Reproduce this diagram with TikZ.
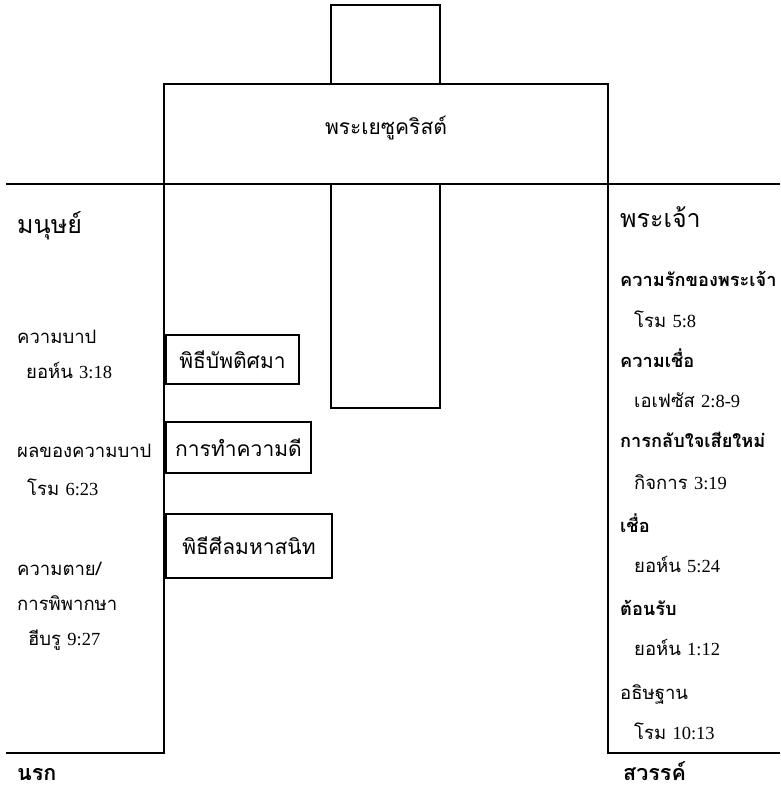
\documentclass[tikz,border=0pt]{standalone}
\usepackage{fontspec}
\setmainfont[Script=Thai]{Loma}
\newfontfamily\numfont{Liberation Serif}
\newcommand{\passage}[1]{{\numfont #1}}
\usetikzlibrary{positioning}

\tikzset{
    frame/.style={line width=2pt},
    ritebox/.style={draw, line width=2pt, inner sep=0pt, anchor=north west,
        text height=20pt, text depth=3pt, font=\fontsize{21}{25}\selectfont},
    sidetext/.style={anchor=base west, inner sep=0pt, font=\fontsize{18.5}{22}\selectfont},
    heading/.style={anchor=base west, inner sep=0pt, font=\bfseries\fontsize{18.2}{22}\selectfont},
    place/.style={anchor=base west, inner sep=0pt, font=\bfseries\fontsize{21.5}{25}\selectfont},
    side/.style={anchor=base west, inner sep=0pt, font=\fontsize{25}{29}\selectfont},
}

\begin{document}
\begin{tikzpicture}[x=1pt, y=-1pt]
    \useasboundingbox (0, 0) rectangle (780, 791);

    \coordinate (TL) at (6, 184);
    \coordinate (TR) at (780, 184);
    \coordinate (BL) at (6, 753);
    \coordinate (BR) at (780, 753);

    % cross
    \draw[frame] (331, 5) rectangle (440, 84);
    \draw[frame] (164, 84) rectangle (608, 184);
    \node [font=\fontsize{21}{25}\selectfont, anchor=base] (christ) at (386, 135) {พระเยซูคริสต์};
    \draw[frame] (331, 184) -- (331, 408) -- (440, 408) -- (440, 184);

    % the gap
    \draw[frame] (TL) -- (TR);
    \draw[frame] (164, 184) -- (164, 753) -- (BL);
    \draw[frame] (608, 184) -- (608, 753) -- (BR);

    \node [ritebox, minimum width=133pt, minimum height=49pt] (baptism) at (165, 334) {พิธีบัพติศมา};
    \node [ritebox, minimum width=145pt, minimum height=51pt] (works) at (165, 421) {การทำความดี};
    \node [ritebox, minimum width=166pt, minimum height=64pt] (supper) at (165, 513) {พิธีศีลมหาสนิท};

    % man
    \node [side] (man) at (17, 234) {มนุษย์};
    \node [sidetext] (sin) at (17, 343) {ความบาป};
    \node [sidetext] (sinref) at (26, 378) {ยอห์น \passage{3:18}};
    \node [sidetext] (wages) at (17, 457) {ผลของความบาป};
    \node [sidetext] (wagesref) at (27, 495) {โรม \passage{6:23}};
    \node [sidetext] (death) at (17, 575) {ความตาย/};
    \node [sidetext] (judge) at (17, 610) {การพิพากษา};
    \node [sidetext] (judgeref) at (28, 645) {ฮีบรู \passage{9:27}};
    \node [place] (hell) at (17, 780) {นรก};

    % god
    \node [side] (god) at (620, 228) {พระเจ้า};
    \node [heading] (love) at (620, 287) {ความรักของพระเจ้า};
    \node [sidetext] (loveref) at (634, 327) {โรม \passage{5:8}};
    \node [heading] (faith) at (620, 367) {ความเชื่อ};
    \node [sidetext] (faithref) at (634, 407) {เอเฟซัส \passage{2:8-9}};
    \node [heading] (repent) at (620, 447) {การกลับใจเสียใหม่};
    \node [sidetext] (repentref) at (634, 489) {กิจการ \passage{3:19}};
    \node [heading] (believe) at (620, 532) {เชื่อ};
    \node [sidetext] (believeref) at (634, 572) {ยอห์น \passage{5:24}};
    \node [heading] (receive) at (620, 615) {ต้อนรับ};
    \node [sidetext] (receiveref) at (634, 655) {ยอห์น \passage{1:12}};
    \node [sidetext] (pray) at (620, 699) {อธิษฐาน};
    \node [sidetext] (prayref) at (634, 739) {โรม \passage{10:13}};
    \node [place] (heaven) at (623, 780) {สวรรค์};
\end{tikzpicture}
\end{document}
